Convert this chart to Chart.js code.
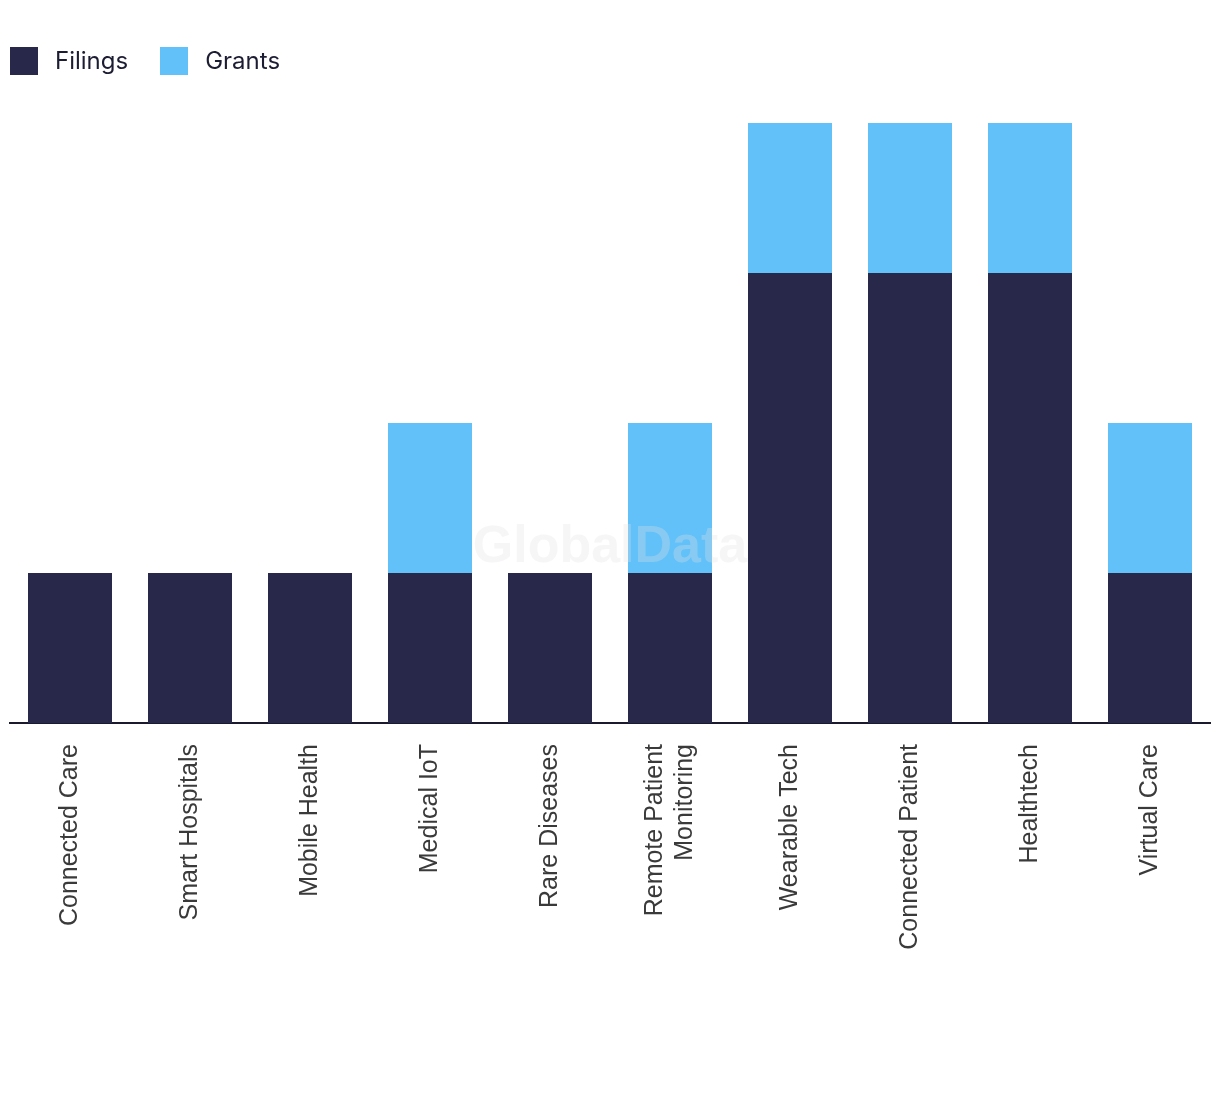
<!DOCTYPE html>
<html>
<head>
<meta charset="utf-8">
<script src="https://cdn.jsdelivr.net/npm/chart.js@4"></script>
<style>
  html, body { margin: 0; padding: 0; background: #fff; }
  #wrap { position: relative; width: 1220px; height: 1094px; }
  #legend { position: absolute; left: 10px; top: 46px; font-family: "Inter", "Roboto", sans-serif; font-size: 24px; color: #1c1c33; }
  #legend span.item { display: inline-flex; align-items: center; margin-right: 32px; }
  #legend span.box { display: inline-block; width: 28px; height: 28px; margin-right: 17px; }
</style>
</head>
<body>
<div id="wrap">
  <canvas id="myChart" width="1220" height="1094"></canvas>
  <div id="legend"></div>
</div>
<script>
var categories = ["Connected Care", "Smart Hospitals", "Mobile Health", "Medical IoT", "Rare Diseases", ["Remote Patient", "Monitoring"], "Wearable Tech", "Connected Patient", "Healthtech", "Virtual Care"]
var filings = [1, 1, 1, 1, 1, 1, 3, 3, 3, 1]
var grants = [0, 0, 0, 1, 0, 1, 1, 1, 1, 1]
var seriesNames = ["Filings", "Grants"]
var colors = ["#28284b", "#63c1f9"]

// html legend
var legendHtml = ""
seriesNames.forEach(function(name, i){
	legendHtml += '<span class="item"><span class="box" style="background:' + colors[i] + '"></span>' + name + '</span>'
})
document.getElementById("legend").innerHTML = legendHtml

var watermark = {
	id: "watermark",
	afterDatasetsDraw: function(chart) {
		var ctx = chart.ctx
		ctx.save()
		ctx.font = "bold 52px 'Liberation Sans', Arial, sans-serif"
		ctx.fillStyle = "rgba(225,225,225,0.3)"
		ctx.textAlign = "center"
		ctx.textBaseline = "middle"
		ctx.fillText("GlobalData", 610, 548)
		ctx.restore()
	}
}

// center multi-line rotated labels on their tick
var centerLabels = {
	id: "centerLabels",
	beforeDraw: function(chart) {
		var items = chart.scales.x.getLabelItems()
		items.forEach(function(item){
			if (Array.isArray(item.label) && !item._centered) {
				item.textOffset -= (item.label.length - 1) * item.font.lineHeight / 2
				item._centered = true
			}
		})
	}
}

var canvasCtx = document.getElementById("myChart").getContext('2d')
var config = {
	type: 'bar',
	data: {
		labels: categories,
		datasets: [
			{label: seriesNames[0], data: filings, backgroundColor: colors[0]},
			{label: seriesNames[1], data: grants, backgroundColor: colors[1]}
		]
	},
	options: {
		responsive: false,
		maintainAspectRatio: false,
		animation: false,
		layout: {padding: {left: 10, right: 10, top: 123, bottom: 0}},
		datasets: {bar: {barPercentage: 0.7, categoryPercentage: 1}},
		plugins: {
			legend: {display: false},
			tooltip: {enabled: false}
		},
		scales: {
			x: {
				stacked: true,
				grid: {display: false, drawTicks: false},
				border: {display: true, color: "#1a1a2e", width: 2},
				ticks: {
					minRotation: 90, maxRotation: 90, autoSkip: false, padding: 21,
					color: "#3a3a3a",
					font: {family: "'Liberation Sans', Arial, sans-serif", size: 25}
				},
				afterFit: function(scale) { scale.height = 371 }
			},
			y: {
				stacked: true,
				display: false,
				min: 0,
				max: 4
			}
		}
	},
	plugins: [watermark, centerLabels]
}
var myChart = new Chart(canvasCtx, config)
</script>
</body>
</html>
